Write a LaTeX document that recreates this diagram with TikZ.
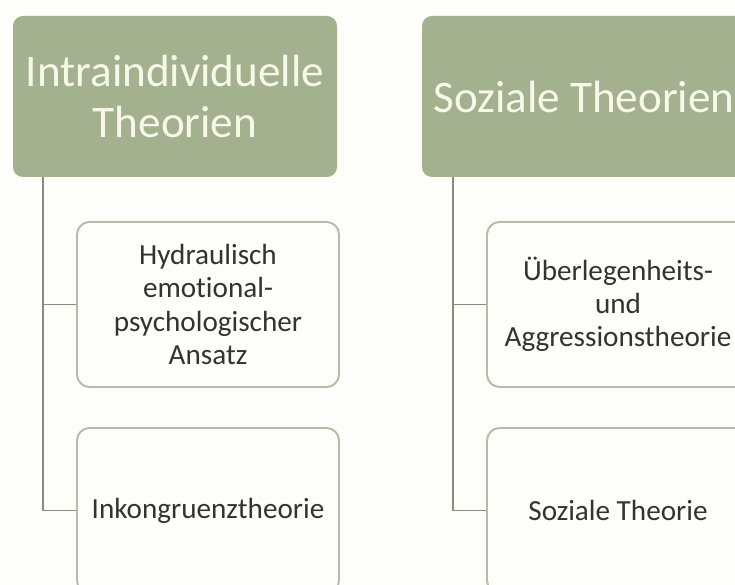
\documentclass[tikz,border=0pt]{standalone}
\usepackage{fontspec}
\setmainfont[Ligatures={NoCommon,NoRare}]{Carlito}
\usepackage{xcolor}
\usetikzlibrary{positioning}
\definecolor{headgreen}{RGB}{163,177,142}
\definecolor{headtext}{RGB}{248,248,232}
\definecolor{itemline}{RGB}{184,186,170}
\definecolor{connline}{RGB}{138,140,128}
\definecolor{paper}{RGB}{253,253,249}

\tikzset{
	headbox/.style={draw=none, fill=headgreen, rounded corners=0.2cm, text=headtext,
		minimum width=6.48cm, minimum height=3.22cm, align=center,
		font=\fontsize{25.7}{29}\selectfont, inner sep=0pt},
	itembox/.style={draw=itemline, line width=1.1pt, fill=paper, rounded corners=0.25cm,
		text=black!80, minimum width=5.24cm, minimum height=3.3cm, align=center,
		font=\fontsize{16.6}{18.8}\selectfont, inner sep=0pt},
	conn/.style={draw=connline, line width=1.1pt}
}

\begin{document}
\begin{tikzpicture}
	\fill [paper] (0,0) rectangle (14.7,11.7);
	\clip (0,0) rectangle (14.7,11.7);
	\useasboundingbox (0,0) rectangle (14.7,11.7);
	% left column
	\node [headbox] (hdIntra) at (3.5,9.77) {Intraindividuelle\\Theorien};
	\node [itembox] (itHydr) at (4.16,5.61) {Hydraulisch\\emotional-\\psychologischer\\Ansatz};
	\node [itembox] (itInkon) at (4.16,1.49) {Inkongruenztheorie};
	\coordinate (trIntra) at (0.86,8.16);
	\draw [conn] (trIntra) |- (itHydr.west);
	\draw [conn] (trIntra) |- (itInkon.west);
	% right column
	\node [headbox] (hdSozial) at (11.68,9.77) {Soziale Theorien};
	\node [itembox] (itUeber) at (12.36,5.61) {Überlegenheits-\\und\\Aggressionstheorie};
	\node [itembox] (itSozial) at (12.36,1.49) {Soziale Theorie};
	\coordinate (trSozial) at (9.06,8.16);
	\draw [conn] (trSozial) |- (itUeber.west);
	\draw [conn] (trSozial) |- (itSozial.west);
\end{tikzpicture}
\end{document}
